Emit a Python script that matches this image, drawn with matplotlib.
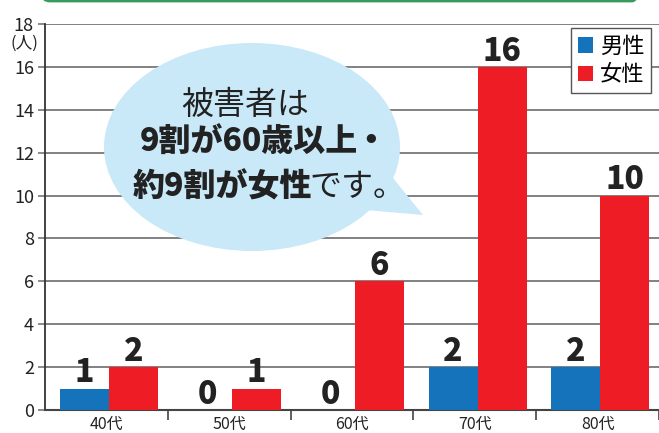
import matplotlib
matplotlib.use("Agg")
import matplotlib.pyplot as plt
from matplotlib.patches import Ellipse, Polygon, FancyBboxPatch
from matplotlib.transforms import Affine2D

plt.rcParams['font.family'] = ['Noto Sans CJK JP', 'DejaVu Sans']

categories = ['40代', '50代', '60代', '70代', '80代']
male = [1, 0, 0, 2, 2]
female = [2, 1, 6, 16, 10]
series_names = ['男性', '女性']
yticks = [0, 2, 4, 6, 8, 10, 12, 14, 16, 18]

W, H = 659, 433
fig = plt.figure(figsize=(W / 100, H / 100), dpi=100)
px = Affine2D().scale(1 / W, -1 / H).translate(0, 1) + fig.transFigure

ax = fig.add_axes([45 / W, (H - 410) / H, (W - 45) / W, (410 - 24) / H])
blue = '#1473bb'
red = '#ee1c25'
x = list(range(len(categories)))
bw = 0.40
bm = ax.bar([i - 0.177 for i in x], male, width=bw, color=blue, label=series_names[0], zorder=3)
bf = ax.bar([i + 0.222 for i in x], female, width=bw, color=red, label=series_names[1], zorder=3)

for bars, vals in ((bm, male), (bf, female)):
    for b, v in zip(bars, vals):
        ax.annotate(str(v), (b.get_x() + b.get_width() / 2, v), xytext=(0, 4.5),
                    textcoords='offset points', ha='center', va='baseline',
                    fontsize=23, fontweight='black', color='#222222', zorder=6)

ax.set_xlim(-0.5, len(categories) - 0.5)
ax.set_ylim(0, 18)
ax.set_yticks(yticks)
ax.set_yticklabels([str(t) for t in yticks], fontsize=13, color='#222222')
ax.set_xticks([i + 0.5 for i in range(len(categories))])
ax.set_xticklabels([])
ax.set_xticks(x, minor=True)
ax.set_xticklabels(categories, minor=True, fontsize=11.5, color='#222222')
ax.tick_params(axis='x', which='minor', length=0, pad=4)
ax.tick_params(axis='x', which='major', length=7, width=1.2, color='#444444', direction='out')
ax.tick_params(axis='y', length=5, width=1.2, color='#777777', pad=3)
ax.grid(axis='y', color='#777777', linewidth=1.3, zorder=0)
for s in ('top', 'right'):
    ax.spines[s].set_visible(False)
ax.spines['left'].set_color('#333333')
ax.spines['left'].set_linewidth(1.3)
ax.spines['bottom'].set_color('#444444')
ax.spines['bottom'].set_linewidth(1.5)

leg = ax.legend(loc='upper right', bbox_to_anchor=((651 - 45) / (W - 45), (410 - 28) / (410 - 24)),
                fontsize=16, handlelength=0.7, handleheight=0.7, handletextpad=0.3,
                borderpad=0.3, labelspacing=0.25, borderaxespad=0, fancybox=False, framealpha=1,
                edgecolor='#555555')
leg.get_frame().set_linewidth(1.0)
leg.set_zorder(7)

fig.text(24, 43, '(人)', transform=px, ha='center', va='center', fontsize=12, color='#222222')

# speech bubble
bub = '#c9e9f8'
fig.patches.append(Ellipse((252, 147), 296, 208, transform=px, facecolor=bub, edgecolor='none', zorder=4))
fig.patches.append(Polygon([(380, 170), (393, 178), (423, 215), (365, 210), (340, 200)], closed=True,
                           transform=px, facecolor=bub, edgecolor='none', zorder=4))
fig.text(245, 105, '被害者は', transform=px, ha='center', va='center', fontsize=23, color='#222222', zorder=5)
fig.text(140, 142, '9割が60歳以上', transform=px, ha='left', va='center', fontsize=23,
         fontweight='black', color='#222222', zorder=5)
fig.text(371, 142, '•', transform=px, ha='center', va='center', fontsize=19,
         fontweight='black', color='#222222', zorder=5, family=['DejaVu Sans'])
fig.text(312, 187, '約9割が女性', transform=px, ha='right', va='center', fontsize=23,
         fontweight='black', color='#222222', zorder=5)
fig.text(309, 187, 'です。', transform=px, ha='left', va='center', fontsize=23, color='#222222', zorder=5)

# green frame at top
fig.patches.append(FancyBboxPatch((42, -40), 598, 41, boxstyle='round,pad=0,rounding_size=8',
                                  transform=px, facecolor='none', edgecolor='#3a9a5c', linewidth=2, zorder=5))

fig.savefig('out.png', dpi=100)
